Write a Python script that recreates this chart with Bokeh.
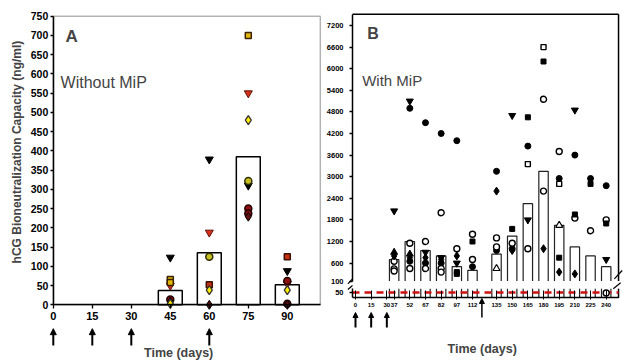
from math import pi
from bokeh.plotting import figure
from bokeh.models import Range1d, LinearAxis, FixedTicker, BoxAnnotation, Arrow, NormalHead, Label
from bokeh.layouts import row
from bokeh.embed import file_html
from bokeh.resources import INLINE

# ======================= DATA =======================
# ---- Panel A : Without MiP ----
A_X_TICKS = [0, 15, 30, 45, 60, 75, 90]
A_Y_TICKS = [0, 50, 100, 150, 200, 250, 300, 350, 400, 450, 500, 550, 600, 650, 700, 750]
A_IMMUNISATION_DAYS = [0, 15, 30, 60]
A_BAR_DAYS = [45, 60, 75, 90]
A_BAR_MEANS = [37, 135, 385, 52]

A_TRI_BLACK_DAYS = [45, 60, 75, 90]
A_TRI_BLACK_VALS = [123, 378, 310, 88]
A_TRI_RED_DAYS = [45, 60, 75, 90]
A_TRI_RED_VALS = [50, 188, 550, 55]
A_SQ_YEL_DAYS = [45, 45, 75]
A_SQ_YEL_VALS = [66, 58, 700]
A_SQ_RED_DAYS = [60, 90]
A_SQ_RED_VALS = [52, 125]
A_DIA_YEL_DAYS = [45, 60, 75, 90]
A_DIA_YEL_VALS = [3, 38, 480, 38]
A_CIR_YEL_DAYS = [60, 75]
A_CIR_YEL_VALS = [125, 322]
A_CIR_RED_DAYS = [45, 75, 75, 90, 90]
A_CIR_RED_VALS = [14, 250, 237, 62, 3]
A_DIA_DARK_DAYS = [45, 60, 75, 90]
A_DIA_DARK_VALS = [8, 0, 229, 0]

# ---- Panel B : With MiP ----
B_X_TICKS = [0, 15, 30, 37, 52, 67, 82, 97, 112, 135, 150, 165, 180, 195, 210, 225, 240]
B_Y_TICKS_UPPER = [100, 600, 1200, 1800, 2400, 3000, 3600, 4200, 4800, 5400, 6000, 6600, 7200]
B_Y_TICKS_LOWER = [50]
B_IMMUNISATION_DAYS = [0, 15, 30]
B_BOOSTER_DAYS = [121]
B_DETECTION_LIMIT = 50
B_BAR_DAYS = [37, 52, 67, 82, 97, 112, 135, 150, 165, 180, 195, 210, 225, 240]
B_BAR_MEANS = [700, 1200, 950, 800, 500, 400, 850, 1350, 2250, 3150, 1650, 1050, 800, 500]

B_CIR_FILLED_DAYS = [52, 52, 67, 67, 82, 82, 97, 112, 135, 135, 150, 165, 195, 210, 225, 240]
B_CIR_FILLED_VALS = [4900, 650, 4500, 600, 4200, 600, 4000, 500, 3150, 950, 1000, 3850, 2950, 3600, 2950, 2750]
B_CIR_OPEN_DAYS = [37, 37, 37, 52, 52, 67, 67, 82, 82, 82, 97, 112, 112, 135, 135, 150, 165, 180, 180, 195, 210, 225, 240]
B_CIR_OPEN_VALS = [650, 440, 380, 1150, 450, 1200, 450, 2000, 450, 350, 1000, 1400, 700, 1300, 1050, 1150, 1000, 5150, 2600, 3700, 1850, 1500, 1800]
B_CIR_OPEN_LOW_DAYS = [240]
B_CIR_OPEN_LOW_VALS = [45]
B_TRI_DOWN_DAYS = [37, 52, 67, 82, 97, 150, 165, 210, 240]
B_TRI_DOWN_VALS = [2050, 5100, 900, 750, 600, 4700, 1800, 4850, 700]
B_TRI_UP_DAYS = [37, 52]
B_TRI_UP_VALS = [900, 850]
B_TRI_OPEN_DAYS = [135, 195]
B_TRI_OPEN_VALS = [450, 1650]
B_SQ_FILLED_DAYS = [97, 97, 112, 150, 165, 180, 195, 210, 225, 240]
B_SQ_FILLED_VALS = [350, 300, 1200, 1550, 4650, 6200, 750, 1950, 2800, 1700]
B_SQ_OPEN_DAYS = [165, 180, 195]
B_SQ_OPEN_VALS = [3350, 6600, 2800]
B_DIA_DAYS = [37, 52, 67, 82, 97, 135, 150, 180, 195, 210]
B_DIA_VALS = [800, 750, 750, 700, 800, 2600, 950, 1000, 350, 300]

# ======================= STYLE / LAYOUT =======================
FONT = "Liberation Sans"
H = 362


def style_axis(ax, font_size, standoff, tick_out, tick_in=0):
    ax.major_label_text_font = FONT
    ax.major_label_text_font_style = "bold"
    ax.major_label_text_font_size = font_size
    ax.major_label_text_color = "black"
    ax.major_label_standoff = standoff
    ax.major_tick_out = tick_out
    ax.major_tick_in = tick_in
    ax.minor_tick_out = 0
    ax.minor_tick_in = 0
    ax.axis_line_width = 1.5
    ax.axis_line_color = "black"
    ax.major_tick_line_width = 1.3
    ax.major_tick_line_color = "black"


# ---------------- Panel A ----------------
A_BOX_RIGHT = 102.7
pa = figure(width=322, height=H,
            x_range=Range1d(-20.31, 103.54), y_range=Range1d(-149.9, 790.8),
            x_axis_type=None, y_axis_type=None,
            toolbar_location=None, output_backend="svg",
            min_border_left=0, min_border_right=0, min_border_top=0, min_border_bottom=0)
pa.outline_line_color = None

pa.add_layout(BoxAnnotation(left=0, right=A_BOX_RIGHT, bottom=0, top=750,
                            fill_color=None, fill_alpha=0, line_color="black", line_width=1.5))

ya = LinearAxis(fixed_location=0, bounds=(0, 750), ticker=FixedTicker(ticks=A_Y_TICKS))
style_axis(ya, "10.5px", 2, 3)
pa.add_layout(ya, "left")
xa = LinearAxis(fixed_location=0, bounds=(0, A_BOX_RIGHT), ticker=FixedTicker(ticks=A_X_TICKS))
style_axis(xa, "11px", 3, 4)
pa.add_layout(xa, "below")

pa.vbar(x=A_BAR_DAYS, top=A_BAR_MEANS, bottom=0, width=9.2,
        fill_color="white", line_color="black", line_width=1.5)

pa.scatter(A_TRI_BLACK_DAYS, A_TRI_BLACK_VALS, marker="inverted_triangle", size=8,
           fill_color="black", line_color="black")
pa.scatter(A_TRI_RED_DAYS, A_TRI_RED_VALS, marker="inverted_triangle", size=8,
           fill_color="#d8301a", line_color="#5a1005")
pa.scatter(A_SQ_YEL_DAYS, A_SQ_YEL_VALS, marker="square", size=6,
           fill_color="#e0b800", line_color="#3a2000", line_width=1.5)
pa.scatter(A_SQ_RED_DAYS, A_SQ_RED_VALS, marker="square", size=6,
           fill_color="#c83010", line_color="#3a1000", line_width=1.5)
pa.scatter(A_CIR_YEL_DAYS, A_CIR_YEL_VALS, marker="circle", size=7,
           fill_color="#c8c020", line_color="#303000", line_width=1.5)
pa.scatter(A_CIR_RED_DAYS, A_CIR_RED_VALS, marker="circle", size=7,
           fill_color="#901010", line_color="#200000", line_width=1.5)
pa.scatter(A_DIA_DARK_DAYS, A_DIA_DARK_VALS, marker="diamond", size=9,
           fill_color="#601010", line_color="black")
pa.scatter(A_DIA_YEL_DAYS, A_DIA_YEL_VALS, marker="diamond", size=9,
           fill_color="#ffee00", line_color="#333333", line_width=1.3)

for d in A_IMMUNISATION_DAYS:
    pa.add_layout(Arrow(end=NormalHead(size=6, fill_color="black", line_color="black"),
                        x_start=d, y_start=-106, x_end=d, y_end=-62,
                        line_width=2, line_color="black"))

pa.add_layout(Label(x=4.7, y=698, text="A", text_font=FONT, text_font_style="bold",
                    text_font_size="17px", text_baseline="middle", text_align="left"))
pa.add_layout(Label(x=2.8, y=578, text="Without MiP", text_font=FONT,
                    text_font_size="16px", text_baseline="alphabetic", text_align="left"))
pa.add_layout(Label(x=48.2, y=-126, text="Time (days)", text_font=FONT, text_font_style="bold",
                    text_font_size="12.5px", text_baseline="middle", text_align="center"))
pa.add_layout(Label(x=-13.9, y=397, text="hCG Bioneutralization Capacity (ng/ml)", angle=pi / 2,
                    text_font=FONT, text_font_style="bold", text_font_size="12px",
                    text_baseline="middle", text_align="center"))

# ---------------- Panel B ----------------
B_XL, B_XR = -2.87, 251.8          # box edges in days
B_BRK_HI, B_BRK_LO = 100, 85       # axis break (upper scale start / lower scale end)
B_TOP = 7510
B_BAR_W = 9.0

pb = figure(width=307, height=H,
            x_range=Range1d(-31.59, 262.3), y_range=Range1d(-2161.1, 7894.4),
            x_axis_type=None, y_axis_type=None,
            toolbar_location=None, output_backend="svg",
            min_border_left=0, min_border_right=0, min_border_top=0, min_border_bottom=0)
pb.outline_line_color = None
pb.extra_y_ranges = {"lower": Range1d(-586.4, 2704.5)}

# frame pieces
pb.segment(x0=[B_XL, B_XR], y0=[B_TOP, B_BRK_HI], x1=[B_XR, B_XR], y1=[B_TOP, B_TOP],
           line_color="black", line_width=1.5)
pb.segment(x0=[B_XR], y0=[0], x1=[B_XR], y1=[B_BRK_LO], y_range_name="lower",
           line_color="black", line_width=1.5)
# break marks
pb.segment(x0=[B_XL - 4.4, B_XR - 4.0], y0=[B_BRK_HI - 75, B_BRK_HI + 64],
           x1=[B_XL, B_XR + 3.5], y1=[B_BRK_HI + 64, B_BRK_HI + 294],
           line_color="black", line_width=1.2)
pb.segment(x0=[B_XL - 4.4, B_XR - 5.0], y0=[B_BRK_LO - 8, B_BRK_LO - 1],
           x1=[B_XL, B_XR + 2.0], y1=[B_BRK_LO + 29, B_BRK_LO + 53],
           y_range_name="lower", line_color="black", line_width=1.2)

yb_up = LinearAxis(fixed_location=B_XL, bounds=(B_BRK_HI, B_TOP),
                   ticker=FixedTicker(ticks=B_Y_TICKS_UPPER))
style_axis(yb_up, "7.5px", 6, 3)
pb.add_layout(yb_up, "left")
yb_lo = LinearAxis(y_range_name="lower", fixed_location=B_XL, bounds=(0, B_BRK_LO),
                   ticker=FixedTicker(ticks=B_Y_TICKS_LOWER))
style_axis(yb_lo, "7.5px", 6, 3)
pb.add_layout(yb_lo, "left")
xb = LinearAxis(y_range_name="lower", fixed_location=0, bounds=(B_XL, B_XR),
                ticker=FixedTicker(ticks=B_X_TICKS))
style_axis(xb, "6px", 3, 2, tick_in=7)
xb.major_tick_line_width = 1
pb.add_layout(xb, "below")

# bars (open at the break)
hw = B_BAR_W / 2
pb.vbar(x=B_BAR_DAYS, bottom=B_BRK_HI, top=B_BAR_MEANS, width=B_BAR_W,
        fill_color="white", line_color=None)
pb.multi_line([[d - hw, d - hw, d + hw, d + hw] for d in B_BAR_DAYS],
              [[B_BRK_HI, m, m, B_BRK_HI] for m in B_BAR_MEANS],
              line_color="#222222", line_width=1.2)
pb.multi_line([[d + s, d + s] for d in B_BAR_DAYS for s in (-hw, hw)],
              [[0, B_BRK_LO] for d in B_BAR_DAYS for s in (-hw, hw)],
              y_range_name="lower", line_color="#222222", line_width=1.2)

pb.segment(x0=[B_XL], x1=[B_XR], y0=[B_DETECTION_LIMIT], y1=[B_DETECTION_LIMIT],
           y_range_name="lower", line_color="#d01010", line_width=2.5, line_dash="7 5")

MS = 6
pb.scatter(B_CIR_FILLED_DAYS, B_CIR_FILLED_VALS, marker="circle", size=MS,
           fill_color="black", line_color="black")
pb.scatter(B_CIR_OPEN_DAYS, B_CIR_OPEN_VALS, marker="circle", size=MS,
           fill_color="white", line_color="black", line_width=1.4)
pb.scatter(B_CIR_OPEN_LOW_DAYS, B_CIR_OPEN_LOW_VALS, marker="circle", size=MS,
           fill_color="white", line_color="black", line_width=1.4, y_range_name="lower")
pb.scatter(B_TRI_DOWN_DAYS, B_TRI_DOWN_VALS, marker="inverted_triangle", size=MS + 1,
           fill_color="black", line_color="black")
pb.scatter(B_TRI_UP_DAYS, B_TRI_UP_VALS, marker="triangle", size=MS + 1,
           fill_color="black", line_color="black")
pb.scatter(B_TRI_OPEN_DAYS, B_TRI_OPEN_VALS, marker="triangle", size=MS + 1,
           fill_color="white", line_color="black", line_width=1.2)
pb.scatter(B_SQ_FILLED_DAYS, B_SQ_FILLED_VALS, marker="square", size=MS - 1,
           fill_color="black", line_color="black")
pb.scatter(B_SQ_OPEN_DAYS, B_SQ_OPEN_VALS, marker="square", size=MS - 1,
           fill_color="white", line_color="black", line_width=1.4)
pb.scatter(B_DIA_DAYS, B_DIA_VALS, marker="diamond", size=MS + 2,
           fill_color="black", line_color="black")

for d in B_IMMUNISATION_DAYS:
    pb.add_layout(Arrow(end=NormalHead(size=5, fill_color="black", line_color="black"),
                        x_start=d, y_start=-268, x_end=d, y_end=-132,
                        y_range_name="lower", line_width=2, line_color="black"))
for d in B_BOOSTER_DAYS:
    pb.add_layout(Arrow(end=NormalHead(size=5, fill_color="black", line_color="black"),
                        x_start=d, y_start=-177, x_end=d, y_end=-5,
                        y_range_name="lower", line_width=1.5, line_color="black"))

pb.add_layout(Label(x=11.2, y=6969, text="B", text_font=FONT, text_font_style="bold",
                    text_font_size="16px", text_baseline="middle", text_align="left"))
pb.add_layout(Label(x=6.4, y=5672, text="With MiP", text_font=FONT,
                    text_font_size="15px", text_baseline="alphabetic", text_align="left"))
pb.add_layout(Label(x=121.3, y=-462, y_range_name="lower", text="Time (days)", text_font=FONT,
                    text_font_style="bold", text_font_size="12.5px",
                    text_baseline="middle", text_align="center"))

layout = row(pa, pb)
open("out.html", "w").write(file_html(layout, INLINE))
